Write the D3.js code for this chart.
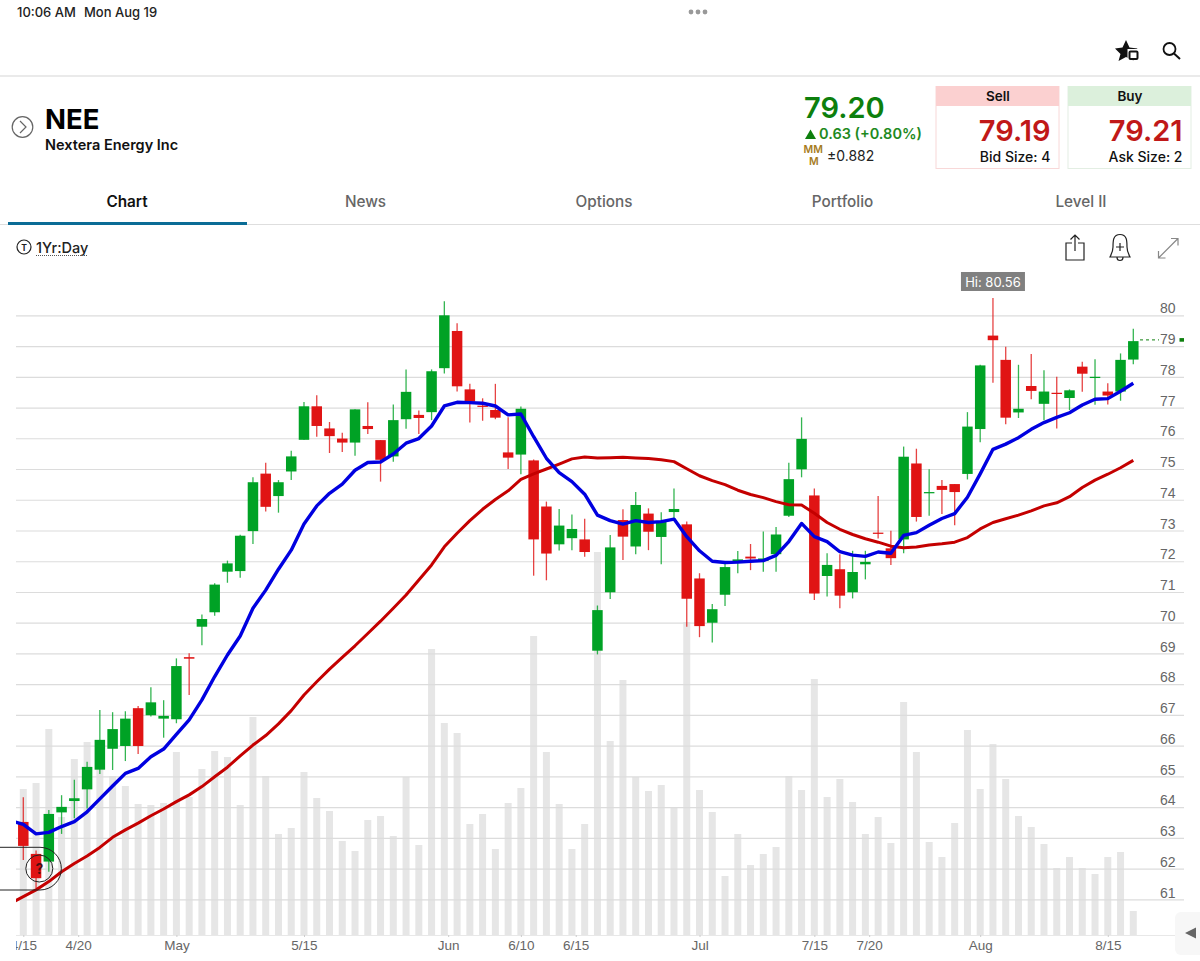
<!DOCTYPE html>
<html>
<head>
<meta charset="utf-8">
<title>NEE 1Yr:Day</title>
<script src="https://cdn.jsdelivr.net/npm/d3@7"></script>
<style>
  html, body { margin: 0; padding: 0; background: #fff; }
  svg { display: block; font-family: Inter, Roboto, "Noto Sans", sans-serif; }
</style>
</head>
<body>
<div id="chart"></div>
<script>
// Daily candles, oldest first
let candleHigh = [64.32,62.59,63.91,64.39,64.89,65.48,67.16,67.09,67.12,67.29,67.90,67.48,68.84,69.01,70.27,71.28,72.02,72.86,74.73,75.20,74.64,75.59,77.18,77.40,76.53,76.18,76.94,77.17,75.94,77.10,78.24,76.90,78.24,80.46,79.74,77.77,77.30,77.77,76.68,77.03,75.31,73.94,73.70,73.52,73.38,70.56,72.85,73.69,74.25,73.72,73.59,74.37,73.29,71.61,70.61,71.95,72.33,72.56,72.97,73.11,75.20,76.68,74.37,72.26,72.23,72.34,72.34,74.12,72.99,75.73,75.66,74.99,74.64,74.51,76.85,78.39,80.56,78.98,78.39,78.74,78.21,78.00,77.59,78.49,78.57,77.79,78.76,79.56];
let candleLow = [62.28,61.36,61.90,63.13,63.64,63.96,65.08,65.21,65.50,65.73,66.95,66.26,66.73,67.65,69.27,70.23,71.30,71.46,72.56,73.62,73.58,74.64,75.95,76.05,75.52,75.55,75.43,76.14,74.59,75.24,76.31,76.14,76.59,78.11,77.52,76.51,76.57,76.62,75.00,74.83,71.53,71.38,72.35,72.36,72.15,68.97,70.77,72.04,72.23,72.36,71.90,73.39,69.87,69.53,69.36,70.54,71.61,71.71,71.66,71.66,73.44,74.73,70.74,70.85,70.47,70.79,71.41,72.74,71.88,72.26,73.29,73.48,73.54,73.17,74.66,75.87,77.81,76.46,76.66,77.27,76.59,76.32,76.92,77.51,77.09,77.10,77.22,78.41];
let candleOpen = [63.52,62.48,62.23,63.83,64.20,64.58,65.22,65.90,65.99,67.22,66.99,66.88,66.86,68.88,69.87,70.34,71.66,71.68,72.98,74.85,74.12,74.92,75.95,77.04,76.32,75.99,75.86,76.40,75.94,75.41,76.62,76.76,76.85,78.28,79.49,77.59,77.06,76.92,75.54,75.47,75.28,73.78,72.55,72.75,72.71,69.09,70.99,73.34,72.48,73.55,72.79,73.60,73.20,71.44,70.00,70.91,71.98,72.15,72.01,72.23,73.48,74.99,74.14,71.52,71.74,70.99,71.90,72.93,72.42,72.71,75.18,74.21,74.45,74.51,74.84,76.30,79.34,78.55,76.84,77.70,77.12,77.48,77.31,78.33,77.96,77.52,77.52,78.56];
let candleClose = [62.74,61.69,63.78,64.01,64.29,65.31,66.19,66.54,66.88,65.99,67.41,66.97,68.59,68.83,70.12,71.24,71.93,72.83,74.57,73.77,74.57,75.41,77.04,76.40,76.07,75.86,76.94,76.30,75.30,76.59,77.51,76.66,78.18,80.00,77.69,77.19,77.02,76.67,75.37,76.96,72.71,72.25,73.16,73.05,72.30,70.41,72.45,72.80,73.83,72.96,73.29,73.70,70.78,69.89,70.44,71.81,72.06,72.09,72.09,72.87,74.67,75.98,70.95,71.88,70.88,71.65,71.98,72.89,72.10,75.40,73.44,74.25,74.32,74.25,76.38,78.37,79.19,76.67,76.96,77.54,77.52,77.44,77.56,78.10,78.00,77.39,78.55,79.16];

// Volume bars, same days, in relative units
let volume = [146,152,206,118,176,193,166,159,149,131,130,132,183,138,166,184,178,130,218,159,101,107,163,137,124,94,84,115,119,99,158,90,286,212,202,111,121,86,132,147,299,183,131,86,111,383,194,255,158,144,150,128,313,145,123,59,101,70,81,88,159,145,256,138,156,133,101,118,92,233,183,93,78,112,205,146,191,156,119,108,91,67,78,67,61,78,83,24];

// Moving averages. First value is the day before the first candle, it gets clipped at the chart edge
let fastAverage = [63.56,63.44,63.13,63.18,63.37,63.53,63.85,64.27,64.69,65.10,65.26,65.64,65.89,66.37,66.84,67.49,68.25,68.95,69.57,70.47,71.06,71.74,72.36,73.21,73.80,74.21,74.51,74.96,75.21,75.23,75.49,75.84,75.99,76.40,77.05,77.17,77.16,77.14,77.05,76.76,76.79,76.05,75.35,74.88,74.59,74.18,73.50,73.32,73.21,73.32,73.26,73.29,73.37,72.80,72.34,72.00,71.96,71.97,72.00,72.02,72.19,72.64,73.23,72.80,72.64,72.31,72.20,72.16,72.30,72.26,72.84,72.93,73.17,73.39,73.55,74.08,74.84,75.64,75.81,76.02,76.29,76.51,76.68,76.83,77.08,77.27,77.29,77.53,77.79];
let slowAverage = [60.87,61.09,61.31,61.58,61.90,62.17,62.41,62.69,63.02,63.26,63.48,63.72,63.94,64.18,64.40,64.67,64.99,65.30,65.67,66.02,66.33,66.71,67.14,67.65,68.08,68.49,68.87,69.25,69.65,70.05,70.47,70.90,71.39,71.88,72.47,72.91,73.32,73.69,74.01,74.29,74.66,74.84,75.00,75.16,75.33,75.39,75.36,75.37,75.38,75.36,75.34,75.30,75.24,75.01,74.78,74.62,74.49,74.31,74.17,74.07,73.94,73.84,73.83,73.56,73.26,73.04,72.87,72.73,72.62,72.49,72.44,72.46,72.53,72.57,72.62,72.77,73.05,73.26,73.38,73.50,73.64,73.80,73.90,74.10,74.40,74.64,74.83,75.04,75.28];

// Axis labels
let priceTicks = [61,62,63,64,65,66,67,68,69,70,71,72,73,74,75,76,77,78,79,80];
let dateTickDays = [0,4.3,12,22,33.3,39,43.3,53,62,66.3,75,85];
let dateTickLabels = ["4/15","4/20","May","5/15","Jun","6/10","6/15","Jul","7/15","7/20","Aug","8/15"];

let lastPrice = 79.20;
let highPrice = 80.56;
let tabNames = ["Chart","News","Options","Portfolio","Level II"];

// Set SVG size and chart area
let svgWidth = 1200;
let svgHeight = 961;
let plotLeft = 16;
let plotRight = 1184;
let baseY = 935;

let svg = d3.select("#chart")
    .append("svg")
    .attr("width", svgWidth)
    .attr("height", svgHeight);

// Scales
let xScale = d3.scaleLinear().domain([0, 87]).range([23.3, 1133.3]);
let yScale = d3.scaleLinear().domain([61, 80]).range([899.4, 315.3]);
let volumeScale = d3.scaleLinear().domain([0, 300]).range([baseY, baseY - 300]);

svg.append("defs").append("clipPath")
    .attr("id", "plotClip")
    .append("rect")
    .attr("x", plotLeft)
    .attr("y", 260)
    .attr("width", plotRight - plotLeft)
    .attr("height", baseY - 260);

// Volume goes under everything
svg.append("g").selectAll("rect")
    .data(volume)
    .enter()
    .append("rect")
    .attr("x", (d, i) => xScale(i) - 3.5)
    .attr("width", 7)
    .attr("y", d => volumeScale(d))
    .attr("height", d => baseY - volumeScale(d))
    .attr("fill", "#e6e6e6");

// Price axis draws the grid too
let priceAxis = d3.axisLeft(yScale)
    .tickValues(priceTicks)
    .tickSize(plotRight - plotLeft)
    .tickFormat(d3.format("d"));

let priceAxisGroup = svg.append("g")
    .attr("transform", `translate(${plotRight}, 0)`)
    .call(priceAxis);

priceAxisGroup.select(".domain").remove();
priceAxisGroup.selectAll("line")
    .attr("stroke", "#dcdcdc")
    .attr("stroke-width", 1.2);
priceAxisGroup.selectAll("text")
    .attr("x", -8.5)
    .attr("dy", "-0.17em")
    .attr("text-anchor", "end")
    .attr("fill", "#666")
    .style("font-size", "14px");

// Date axis
let dateAxis = d3.axisBottom(xScale)
    .tickValues(dateTickDays)
    .tickSize(2)
    .tickPadding(3)
    .tickFormat((d, i) => dateTickLabels[i]);

let dateAxisGroup = svg.append("g")
    .attr("transform", `translate(0, ${baseY})`)
    .attr("clip-path", "url(#dateClip)")
    .call(dateAxis);

svg.select("defs").append("clipPath")
    .attr("id", "dateClip")
    .append("rect")
    .attr("x", plotLeft)
    .attr("y", -5)
    .attr("width", 1184)
    .attr("height", 30);

dateAxisGroup.select(".domain")
    .attr("stroke", "#e8e8e8")
    .attr("d", `M${plotLeft},0.5H1175`);
dateAxisGroup.selectAll("line").attr("stroke", "#ccc");
dateAxisGroup.selectAll("text")
    .attr("fill", "#666")
    .style("font-size", "13.5px");

// Candles
let candleGroup = svg.append("g");
let candleColor = i => candleClose[i] >= candleOpen[i] ? "#00a225" : "#e01414";

candleGroup.selectAll("line")
    .data(candleHigh)
    .enter()
    .append("line")
    .attr("x1", (d, i) => xScale(i))
    .attr("x2", (d, i) => xScale(i))
    .attr("y1", d => yScale(d))
    .attr("y2", (d, i) => yScale(candleLow[i]))
    .attr("stroke", (d, i) => candleColor(i))
    .attr("stroke-opacity", 0.8)
    .attr("stroke-width", 1.3);

candleGroup.selectAll("rect")
    .data(candleOpen)
    .enter()
    .append("rect")
    .attr("x", (d, i) => xScale(i) - 5.25)
    .attr("width", 10.5)
    .attr("y", (d, i) => yScale(Math.max(d, candleClose[i])))
    .attr("height", (d, i) => Math.max(1.2, Math.abs(yScale(d) - yScale(candleClose[i]))))
    .attr("fill", (d, i) => candleColor(i));

// Moving average lines
let averageLine = d3.line()
    .x((d, i) => xScale(i - 1))
    .y(d => yScale(d));

let lineGroup = svg.append("g").attr("clip-path", "url(#plotClip)");

lineGroup.append("path")
    .attr("d", averageLine(slowAverage))
    .attr("fill", "none")
    .attr("stroke", "#c40000")
    .attr("stroke-width", 3)
    .attr("stroke-linejoin", "round");

lineGroup.append("path")
    .attr("d", averageLine(fastAverage))
    .attr("fill", "none")
    .attr("stroke", "#0000e0")
    .attr("stroke-width", 3.4)
    .attr("stroke-linejoin", "round");

// Last price marker
svg.append("line")
    .attr("x1", 1140)
    .attr("x2", 1159)
    .attr("y1", yScale(lastPrice))
    .attr("y2", yScale(lastPrice))
    .attr("stroke", "#0d7f0d")
    .attr("stroke-dasharray", "3,3");

svg.append("rect")
    .attr("x", 1179.5)
    .attr("y", yScale(lastPrice) - 1.8)
    .attr("width", 4.5)
    .attr("height", 3.6)
    .attr("fill", "#0d7f0d");

// Hi label over the top candle
let hiX = xScale(candleHigh.indexOf(highPrice));

svg.append("rect")
    .attr("x", hiX - 32)
    .attr("y", 272)
    .attr("width", 64)
    .attr("height", 19)
    .attr("fill", "#808080");

svg.append("text")
    .attr("x", hiX)
    .attr("y", 286.5)
    .attr("text-anchor", "middle")
    .attr("fill", "#fff")
    .style("font-size", "13px")
    .text("Hi: " + highPrice);

// The "?" marker on the second candle
svg.append("path")
    .attr("d", "M0,847.3H40A21.3,21.3 0 0 1 40,890H0")
    .attr("fill", "none")
    .attr("stroke", "#222")
    .attr("stroke-width", 1);

svg.append("circle")
    .attr("cx", 39.3)
    .attr("cy", 868.5)
    .attr("r", 13.5)
    .attr("fill", "none")
    .attr("stroke", "#222")
    .attr("stroke-width", 1);

svg.append("text")
    .attr("x", 39.5)
    .attr("y", 873.5)
    .attr("text-anchor", "middle")
    .attr("fill", "#4a1010")
    .style("font-size", "14px")
    .style("font-weight", 700)
    .text("?");

// Small helper for the app chrome around the chart
function label(x, y, str, size, weight, color, anchor) {
    return svg.append("text")
        .attr("x", x)
        .attr("y", y)
        .attr("text-anchor", anchor || "start")
        .attr("fill", color)
        .style("font-size", size + "px")
        .style("font-weight", weight)
        .text(str);
}

function rule(x1, x2, y, color, width) {
    svg.append("line")
        .attr("x1", x1)
        .attr("x2", x2)
        .attr("y1", y)
        .attr("y2", y)
        .attr("stroke", color)
        .attr("stroke-width", width);
}

// Status bar
label(17, 17, "10:06 AM", 13, 500, "#222");
label(84, 17, "Mon Aug 19", 13, 500, "#222");
[691, 698, 705].forEach(x => {
    svg.append("circle").attr("cx", x).attr("cy", 12).attr("r", 2.4).attr("fill", "#999");
});

// Watchlist star and search
svg.append("path")
    .attr("d", "M1126,40L1129.5,47.5L1137.5,48.5L1131.5,54L1133.5,60.5L1126,57L1118.5,61L1120.5,54L1115,48.5L1122.5,47.5Z")
    .attr("fill", "#111");
svg.append("rect")
    .attr("x", 1127.5).attr("y", 49).attr("width", 11).attr("height", 11).attr("fill", "#fff");
svg.append("rect")
    .attr("x", 1129.5).attr("y", 51.5).attr("width", 8).attr("height", 7.5).attr("rx", 1)
    .attr("fill", "#fff").attr("stroke", "#111").attr("stroke-width", 2);
svg.append("circle")
    .attr("cx", 1169.5).attr("cy", 49).attr("r", 6)
    .attr("fill", "none").attr("stroke", "#111").attr("stroke-width", 1.8);
svg.append("line")
    .attr("x1", 1174).attr("y1", 53.5).attr("x2", 1180).attr("y2", 59)
    .attr("stroke", "#111").attr("stroke-width", 2);

rule(0, 1200, 76, "#e3e3e3", 1.5);

// Symbol header
svg.append("circle")
    .attr("cx", 22.5).attr("cy", 127).attr("r", 10.3)
    .attr("fill", "none").attr("stroke", "#666").attr("stroke-width", 1.2);
svg.append("path")
    .attr("d", "M20,121L26,127L20,133")
    .attr("fill", "none").attr("stroke", "#666").attr("stroke-width", 1.2);
label(45, 129, "NEE", 27.5, 700, "#000");
label(45, 150, "Nextera Energy Inc", 14.5, 600, "#111");

label(804, 118, "79.20", 29, 600, "#0d7f0d");
svg.append("path").attr("d", "M805,139L810.5,129.5L816,139Z").attr("fill", "#0d7f0d");
label(819, 139, "0.63 (+0.80%)", 14.5, 600, "#1e8a1e");
label(803.5, 153, "MM", 10.5, 600, "#a67c1e");
label(809, 165, "M", 10.5, 600, "#a67c1e");
label(827, 161, "±0.882", 14, 400, "#222");

// Sell and Buy boxes
function quoteBox(x, title, price, size, headFill, lineColor) {
    svg.append("rect")
        .attr("x", x).attr("y", 86.5).attr("width", 123).attr("height", 82)
        .attr("fill", "#fff").attr("stroke", lineColor);
    svg.append("rect")
        .attr("x", x).attr("y", 86).attr("width", 123).attr("height", 20)
        .attr("fill", headFill);
    label(x + 62, 101, title, 13.5, 600, "#111", "middle");
    label(x + 114.5, 141, price, 29, 600, "#c01818", "end");
    label(x + 114.5, 162, size, 14, 500, "#111", "end");
}
quoteBox(936, "Sell", "79.19", "Bid Size: 4", "#fbd0d0", "#f8d8d8");
quoteBox(1068, "Buy", "79.21", "Ask Size: 2", "#dcf0dc", "#e3eee3");

// Tabs
let tabX = d3.scalePoint().domain(tabNames).range([127, 1081]);
tabNames.forEach((name, i) => {
    label(tabX(name), 207, name, 15.3, i == 0 ? 600 : 500, i == 0 ? "#111" : "#666", "middle");
});
rule(0, 1200, 224.5, "#dedede", 1);
rule(8, 247, 223.5, "#0a6c96", 3);

// Chart toolbar
svg.append("circle")
    .attr("cx", 24).attr("cy", 247).attr("r", 7)
    .attr("fill", "none").attr("stroke", "#222").attr("stroke-width", 1.2);
label(24, 250.5, "T", 8.5, 700, "#222", "middle");
label(36, 252.5, "1Yr:Day", 14.5, 500, "#222");
svg.append("line")
    .attr("x1", 36).attr("x2", 88).attr("y1", 255.5).attr("y2", 255.5)
    .attr("stroke", "#555").attr("stroke-dasharray", "1,1");

svg.append("path")
    .attr("d", "M1072,243H1066V260H1084V243H1078M1075,251V235M1070.5,239.5L1075,235L1079.5,239.5")
    .attr("fill", "none").attr("stroke", "#222").attr("stroke-width", 1.2);
svg.append("path")
    .attr("d", "M1120,234.5C1113,234.5 1113,241 1113,247C1113,252 1111,255 1110,257H1130C1129,255 1127,252 1127,247C1127,241 1127,234.5 1120,234.5ZM1117,257.5C1117,261.5 1123,261.5 1123,257.5M1116,247H1124M1120,243V251")
    .attr("fill", "none").attr("stroke", "#222").attr("stroke-width", 1.2);
svg.append("path")
    .attr("d", "M1158.5,258L1178,238.5M1158.5,251V258H1165.5M1171,238.5H1178V245.5")
    .attr("fill", "none").attr("stroke", "#888").attr("stroke-width", 1.2);

// Collapse handle bottom right
svg.append("rect")
    .attr("x", 1175).attr("y", 912).attr("width", 30).attr("height", 43).attr("rx", 6)
    .attr("fill", "#f7f7f7");
svg.append("path").attr("d", "M1185,933L1196,927.5V938.5Z").attr("fill", "#666");
</script>
</body>
</html>
